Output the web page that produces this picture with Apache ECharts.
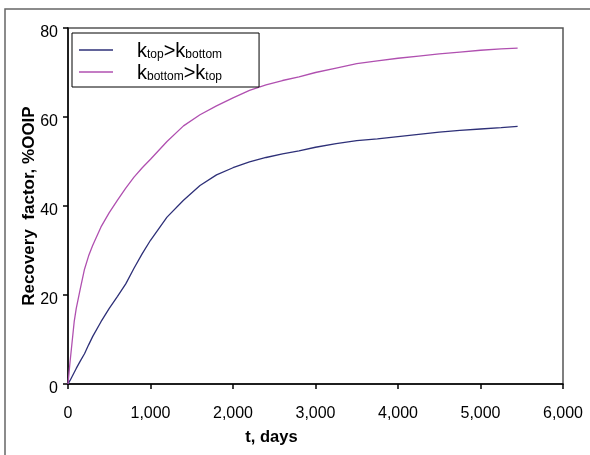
<!DOCTYPE html>
<html>
<head>
<meta charset="utf-8">
<script src="https://cdn.jsdelivr.net/npm/echarts@6/dist/echarts.min.js"></script>
<style>html,body{margin:0;padding:0;background:#fff}#c{width:590px;height:455px}</style>
</head>
<body>
<div id="c"></div>
<script>
var tDays = [0, 25, 50, 75, 100, 150, 200, 250, 300, 400, 500, 600, 700, 800, 900, 1000, 1200, 1400, 1600, 1800, 2000, 2200, 2400, 2600, 2800, 3000, 3250, 3500, 3750, 4000, 4250, 4500, 4750, 5000, 5250, 5450];
var rfTopGreater = [0, 0.8, 1.7, 2.6, 3.5, 5.2, 6.8, 8.8, 10.7, 14, 17, 19.7, 22.5, 26, 29.3, 32.3, 37.5, 41.3, 44.6, 47, 48.6, 49.9, 50.9, 51.7, 52.4, 53.2, 54, 54.7, 55.1, 55.6, 56.1, 56.6, 57.0, 57.3, 57.6, 57.9];
var rfBottomGreater = [0, 5, 9.5, 14, 17, 21.5, 25.8, 28.8, 31.2, 35.3, 38.5, 41.3, 44, 46.5, 48.6, 50.5, 54.5, 58, 60.5, 62.5, 64.3, 66, 67.2, 68.2, 69, 70, 71, 72, 72.6, 73.2, 73.7, 74.2, 74.6, 75, 75.3, 75.5];
var yTicks = [0, 20, 40, 60, 80];
var xTicks = [0, 1000, 2000, 3000, 4000, 5000, 6000];
var seriesNames = ['ktop>kbottom', 'kbottom>ktop'];

function pairs(xs, ys) { return xs.map(function (x, i) { return [x, ys[i]]; }); }
var FF = 'Liberation Sans, Arial, sans-serif';
var chart = echarts.init(document.getElementById('c'));
var rich = {
  k: { fontSize: 20, fontFamily: FF, color: '#000', verticalAlign: 'bottom', lineHeight: 22 },
  s: { fontSize: 12, fontFamily: FF, color: '#000', verticalAlign: 'bottom', lineHeight: 18 },
  p: { fontSize: 18, fontFamily: FF, padding: [0, 0, 0, 19], lineHeight: 22 }
};
chart.setOption({
  animation: false,
  backgroundColor: '#fff',
  graphic: [{
    type: 'rect', shape: { x: 5, y: 9, width: 620, height: 480 },
    style: { fill: 'none', stroke: '#666', lineWidth: 1.5 }, silent: true
  }],
  grid: { left: 68, right: 27, top: 28, bottom: 71, show: true, borderColor: '#555', borderWidth: 1.5, backgroundColor: 'transparent' },
  legend: {
    orient: 'vertical', left: 72, top: 33,
    padding: [6, 37, 4, 7],
    borderColor: '#000', borderWidth: 1, backgroundColor: '#fff',
    itemWidth: 34, itemHeight: 1.5, itemGap: 0, icon: 'rect',
    data: seriesNames,
    formatter: function (n) {
      if (n === seriesNames[0]) return '{p|}{k|k}{s|top}{k|>k}{s|bottom}';
      return '{p|}{k|k}{s|bottom}{k|>k}{s|top}';
    },
    textStyle: { rich: rich, lineHeight: 22 }
  },
  xAxis: {
    type: 'value', min: xTicks[0], max: xTicks[xTicks.length - 1], interval: 1000,
    name: 't, days', nameLocation: 'middle', nameGap: 45, nameMoveOverlap: false,
    nameTextStyle: { fontFamily: FF, fontSize: 16.5, fontWeight: 'bold', color: '#000', padding: [0, 88, 0, 0] },
    axisLine: { lineStyle: { color: '#000', width: 1.5 } },
    axisTick: { show: true, length: 5, lineStyle: { color: '#000', width: 1.5 } },
    axisLabel: { fontFamily: FF, fontSize: 16, color: '#000', margin: 22,
      formatter: function (v) { return v.toLocaleString('en-US'); } },
    splitLine: { show: false }
  },
  yAxis: {
    type: 'value', min: yTicks[0], max: yTicks[yTicks.length - 1], interval: 20,
    name: 'Recovery  factor, %OOIP', nameLocation: 'middle', nameGap: 30, nameMoveOverlap: false,
    nameTextStyle: { fontFamily: FF, fontSize: 17, fontWeight: 'bold', color: '#000' },
    axisLine: { show: true, lineStyle: { color: '#000', width: 1.5 } },
    axisTick: { show: true, length: 5, lineStyle: { color: '#000', width: 1.5 } },
    axisLabel: { fontFamily: FF, fontSize: 16, color: '#000', margin: 10, verticalAlign: 'top', lineHeight: 16, padding: [-3, 0, 0, 0] },
    splitLine: { show: false }
  },
  series: [
    { name: seriesNames[0], type: 'line', data: pairs(tDays, rfTopGreater), symbol: 'none', showSymbol: false,
      lineStyle: { color: '#2E3078', width: 1.3 }, itemStyle: { color: '#2E3078' } },
    { name: seriesNames[1], type: 'line', data: pairs(tDays, rfBottomGreater), symbol: 'none', showSymbol: false,
      lineStyle: { color: '#B050B0', width: 1.3 }, itemStyle: { color: '#B050B0' } }
  ]
});
</script>
</body>
</html>
